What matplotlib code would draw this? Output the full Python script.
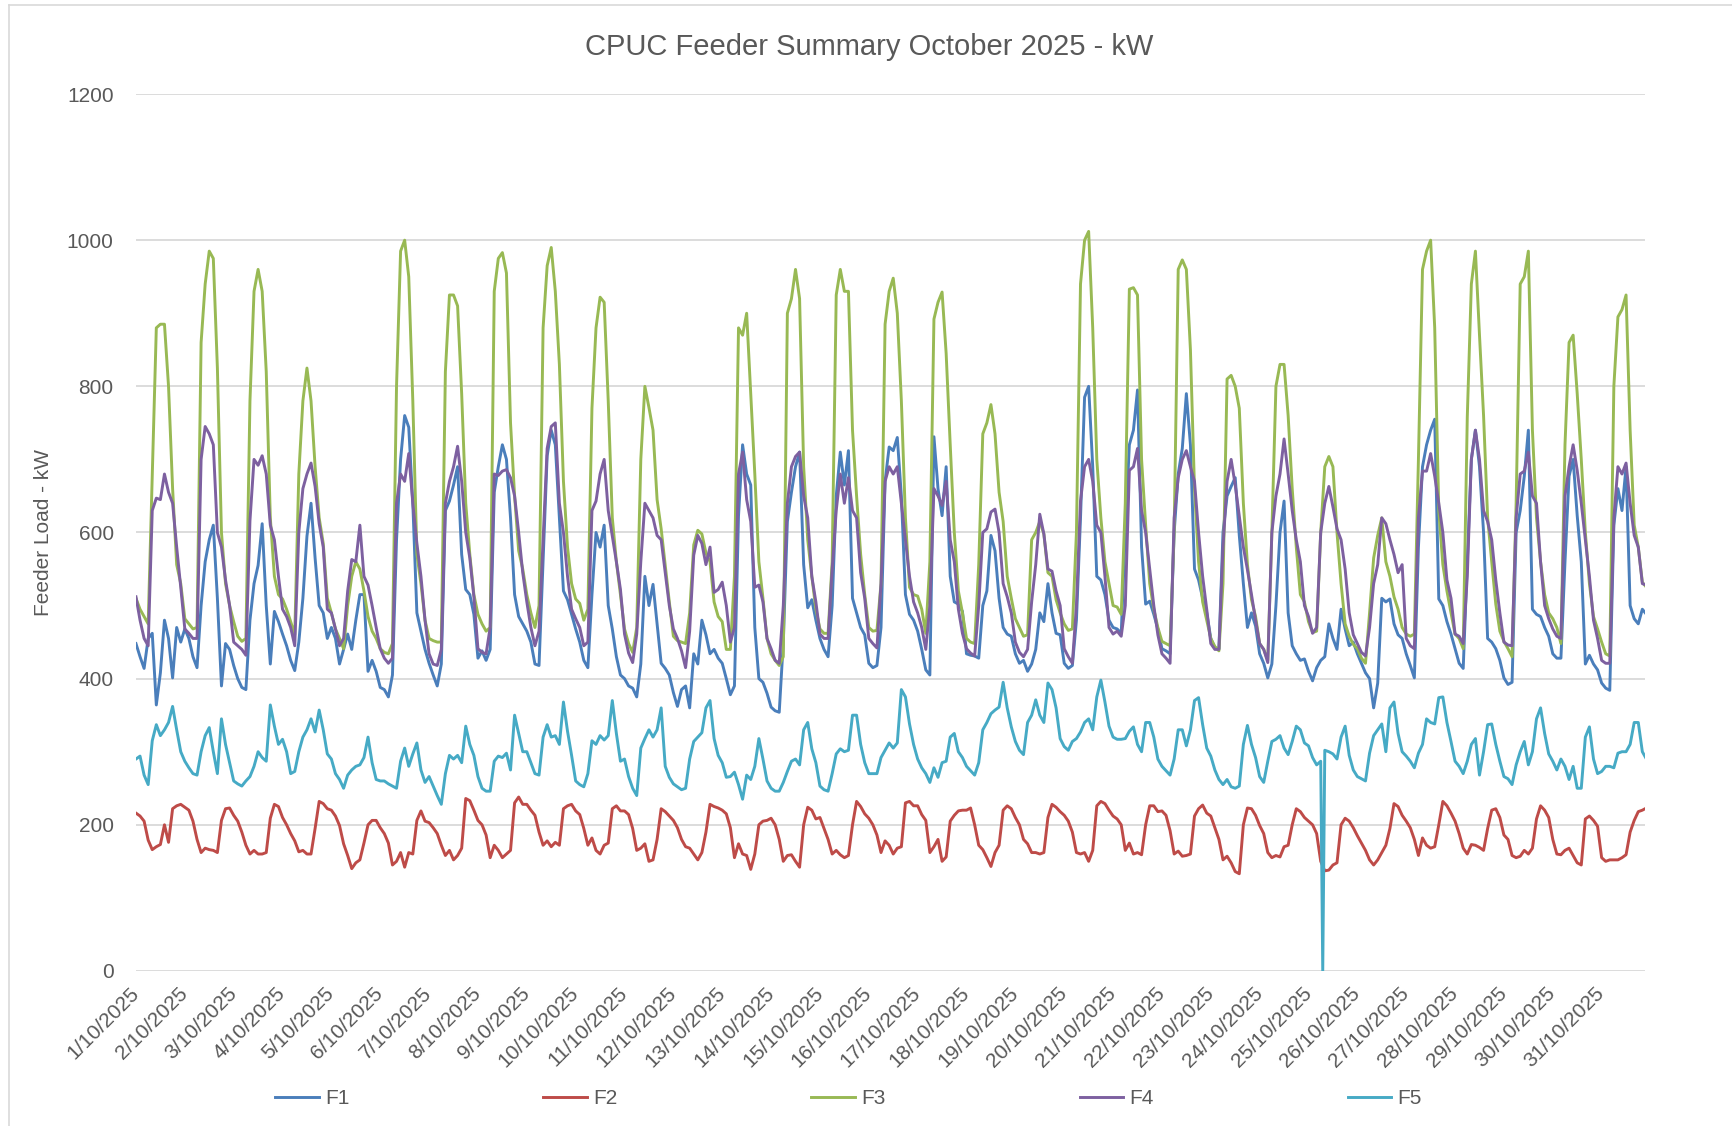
import matplotlib.pyplot as plt
from matplotlib.lines import Line2D
import pandas as pd

# 2-hourly readings, one row per day (00h 02h ... 22h), 1/10 .. 31/10
f1 = [
    448, 430, 414, 455, 462, 364, 408, 480, 455, 401, 470, 450,
    468, 455, 430, 415, 500, 560, 590, 610, 510, 390, 448, 440,
    418, 400, 388, 385, 480, 530, 555, 612, 500, 420, 492, 478,
    461, 445, 425, 411, 450, 510, 595, 640, 565, 500, 490, 455,
    470, 455, 420, 440, 461, 440, 480, 515, 515, 410, 425, 410,
    388, 385, 375, 405, 590, 700, 760, 744, 640, 490, 465, 440,
    421, 405, 390, 420, 630, 643, 665, 690, 570, 522, 515, 488,
    428, 438, 425, 440, 655, 690, 720, 700, 620, 515, 485, 475,
    465, 450, 420, 418, 560, 705, 740, 720, 620, 520, 508, 488,
    468, 450, 425, 415, 515, 600, 580, 610, 500, 468, 430, 405,
    400, 390, 387, 375, 420, 540, 500, 529, 475, 421, 414, 405,
    381, 362, 385, 390, 360, 434, 420, 480, 460, 434, 440, 428,
    421, 400, 378, 390, 623, 720, 680, 665, 470, 400, 395, 380,
    361, 356, 354, 450, 615, 655, 690, 710, 556, 497, 508, 480,
    455, 440, 430, 500, 650, 710, 665, 712, 510, 490, 470, 460,
    421, 415, 418, 470, 670, 717, 712, 730, 650, 515, 488, 480,
    465, 440, 412, 405, 731, 660, 623, 690, 540, 505, 502, 492,
    434, 432, 431, 428, 500, 520, 596, 575, 510, 470, 461, 458,
    434, 421, 425, 410, 420, 440, 490, 478, 530, 490, 462, 460,
    421, 414, 418, 480, 620, 785, 800, 690, 540, 535, 515, 480,
    470, 468, 462, 600, 720, 740, 795, 580, 502, 506, 488, 468,
    441, 438, 434, 600, 680, 715, 790, 720, 550, 535, 510, 490,
    455, 442, 441, 600, 650, 663, 675, 596, 530, 470, 490, 472,
    434, 421, 401, 420, 500, 600, 643, 490, 445, 434, 425, 427,
    410, 397, 415, 425, 430, 475, 455, 440, 495, 468, 445, 450,
    434, 421, 408, 400, 360, 394, 510, 505, 509, 475, 460, 455,
    434, 418, 401, 580, 690, 720, 740, 755, 509, 500, 478, 461,
    441, 421, 414, 560, 700, 740, 690, 600, 455, 450, 441, 425,
    401, 392, 395, 600, 630, 677, 740, 495, 488, 485, 470, 458,
    434, 428, 428, 560, 677, 700, 623, 560, 420, 432, 420, 412,
    394, 387, 384, 610, 660, 630, 690, 500, 482, 475, 495, 488,
]

f2 = [
    216, 212, 205, 179, 166, 170, 173, 200, 176, 222, 226, 228,
    224, 220, 205, 180, 162, 168, 166, 165, 162, 206, 222, 223,
    213, 205, 190, 172, 160, 165, 160, 160, 162, 209, 228, 225,
    210, 200, 188, 178, 163, 165, 160, 160, 195, 232, 229, 222,
    220, 212, 199, 174, 158, 140, 148, 152, 175, 200, 206, 206,
    196, 188, 175, 145, 150, 162, 142, 162, 160, 206, 219, 205,
    203, 196, 188, 172, 158, 165, 152, 158, 168, 236, 233, 220,
    206, 200, 186, 155, 172, 165, 155, 160, 165, 230, 238, 228,
    228, 220, 213, 190, 172, 178, 170, 176, 172, 222, 226, 228,
    219, 214, 195, 172, 182, 165, 160, 172, 175, 222, 226, 219,
    219, 214, 195, 165, 168, 174, 150, 152, 180, 222, 218, 212,
    206, 196, 180, 170, 168, 160, 152, 162, 190, 228, 225, 223,
    220, 215, 196, 155, 174, 160, 158, 139, 160, 200, 205, 206,
    209, 200, 180, 150, 158, 159, 150, 142, 200, 224, 220, 208,
    210, 195, 180, 160, 165, 159, 155, 158, 200, 232, 225, 215,
    209, 200, 186, 162, 178, 172, 160, 168, 170, 230, 232, 226,
    226, 214, 206, 162, 170, 180, 150, 156, 205, 213, 219, 220,
    220, 223, 200, 172, 166, 155, 143, 162, 172, 220, 226, 222,
    210, 200, 180, 174, 162, 162, 160, 162, 210, 228, 224, 218,
    213, 205, 190, 162, 160, 162, 150, 165, 226, 232, 229, 220,
    212, 208, 200, 165, 175, 160, 162, 159, 200, 226, 226, 218,
    219, 213, 192, 160, 164, 157, 158, 160, 212, 222, 227, 216,
    212, 196, 180, 152, 157, 148, 136, 133, 200, 223, 222, 213,
    199, 188, 162, 155, 158, 156, 170, 172, 200, 222, 218, 210,
    205, 200, 188, 150, 137, 138, 145, 148, 200, 209, 205, 196,
    185, 175, 165, 152, 145, 152, 162, 172, 195, 229, 225, 213,
    205, 196, 180, 158, 182, 172, 168, 170, 200, 232, 226, 216,
    205, 188, 168, 160, 173, 172, 169, 165, 195, 220, 222, 210,
    186, 180, 158, 155, 157, 165, 160, 168, 208, 226, 220, 210,
    180, 160, 159, 165, 168, 158, 148, 145, 208, 212, 206, 198,
    155, 150, 152, 152, 152, 155, 159, 190, 206, 218, 220, 223,
]

f3 = [
    510, 495, 485, 475, 680, 880, 885, 885, 800, 660, 556, 530,
    482, 475, 468, 470, 860, 940, 985, 975, 825, 600, 530, 500,
    478, 458, 451, 455, 780, 930, 960, 930, 820, 620, 540, 515,
    509, 495, 478, 460, 680, 780, 825, 780, 690, 620, 585, 510,
    490, 468, 455, 441, 500, 540, 560, 550, 520, 485, 465, 455,
    441, 436, 434, 448, 800, 985, 1000, 950, 780, 570, 530, 480,
    455, 452, 450, 450, 820, 925, 925, 910, 790, 640, 570, 515,
    488, 475, 465, 470, 930, 975, 983, 955, 750, 650, 575, 550,
    515, 490, 470, 500, 880, 965, 990, 930, 830, 670, 580, 530,
    509, 503, 480, 495, 770, 880, 922, 915, 780, 620, 560, 515,
    468, 448, 436, 470, 700, 800, 771, 740, 645, 605, 555, 505,
    458, 452, 450, 448, 490, 583, 603, 598, 572, 560, 505, 485,
    478, 440, 440, 540, 880, 870, 900, 790, 680, 560, 510, 455,
    434, 425, 418, 430, 900, 920, 960, 920, 690, 590, 540, 495,
    468, 462, 462, 560, 925, 960, 930, 930, 740, 650, 570, 515,
    470, 465, 466, 530, 885, 930, 948, 900, 780, 620, 525, 515,
    513, 495, 462, 560, 892, 915, 929, 845, 720, 600, 520, 490,
    455, 450, 448, 556, 735, 750, 775, 735, 655, 615, 540, 510,
    482, 470, 458, 460, 590, 600, 615, 598, 545, 540, 508, 490,
    475, 466, 468, 600, 940, 1000, 1012, 880, 700, 620, 560, 530,
    500, 498, 488, 640, 933, 935, 925, 700, 610, 530, 495, 470,
    451, 448, 445, 600, 960, 973, 960, 850, 660, 560, 505, 480,
    455, 444, 438, 530, 810, 815, 800, 770, 640, 556, 508, 485,
    448, 440, 425, 600, 800, 830, 830, 760, 660, 580, 515, 505,
    478, 463, 465, 600, 690, 704, 690, 600, 530, 475, 458, 447,
    441, 428, 421, 490, 565, 596, 620, 560, 540, 512, 495, 470,
    461, 458, 461, 700, 960, 985, 1000, 880, 630, 556, 520, 490,
    461, 455, 441, 758, 940, 985, 870, 760, 620, 560, 502, 465,
    451, 441, 430, 640, 940, 950, 985, 740, 620, 560, 515, 490,
    482, 470, 448, 720, 860, 870, 790, 700, 600, 530, 485, 468,
    450, 434, 431, 800, 895, 905, 925, 740, 610, 580, 532, 525,
]

f4 = [
    512, 480, 455, 445, 630, 647, 645, 680, 655, 640, 580, 525,
    468, 462, 455, 455, 700, 745, 735, 720, 600, 580, 535, 500,
    450, 445, 440, 432, 616, 700, 692, 705, 680, 610, 590, 540,
    495, 485, 470, 445, 600, 660, 680, 695, 663, 612, 580, 495,
    490, 468, 445, 455, 520, 563, 560, 610, 540, 528, 500, 470,
    441, 428, 421, 428, 640, 680, 670, 708, 640, 585, 540, 480,
    434, 420, 418, 440, 640, 670, 690, 718, 670, 600, 565, 512,
    441, 436, 434, 470, 680, 678, 684, 686, 675, 650, 600, 545,
    505, 470, 445, 465, 590, 715, 745, 750, 640, 600, 540, 495,
    482, 470, 445, 450, 630, 643, 680, 700, 630, 595, 560, 522,
    461, 435, 422, 461, 560, 640, 630, 620, 596, 590, 545, 500,
    468, 455, 438, 415, 465, 569, 596, 585, 556, 580, 518, 522,
    532, 500, 450, 470, 680, 710, 645, 615, 525, 528, 505, 455,
    441, 425, 421, 500, 640, 690, 704, 710, 650, 620, 540, 505,
    461, 455, 455, 550, 630, 680, 640, 675, 630, 620, 545, 510,
    455, 448, 442, 530, 670, 690, 680, 690, 640, 590, 540, 505,
    490, 470, 440, 500, 660, 650, 637, 670, 590, 560, 495, 462,
    441, 435, 431, 500, 600, 605, 628, 632, 600, 530, 512, 490,
    450, 436, 430, 440, 505, 556, 625, 598, 550, 547, 520, 500,
    441, 430, 421, 500, 643, 690, 700, 670, 610, 600, 540, 470,
    461, 465, 458, 500, 685, 690, 715, 630, 600, 550, 500, 460,
    434, 428, 421, 620, 675, 700, 712, 690, 670, 600, 540, 495,
    448, 440, 440, 580, 670, 700, 665, 623, 580, 549, 515, 480,
    448, 440, 422, 600, 650, 680, 728, 680, 630, 590, 560, 500,
    485, 462, 470, 600, 640, 663, 635, 605, 590, 550, 490, 460,
    448, 436, 431, 470, 530, 556, 620, 612, 590, 570, 545, 556,
    455, 445, 441, 620, 684, 684, 708, 677, 640, 600, 535, 510,
    461, 458, 448, 540, 700, 740, 700, 630, 615, 590, 535, 490,
    450, 446, 445, 620, 680, 684, 710, 650, 640, 560, 500, 482,
    468, 458, 455, 650, 690, 720, 685, 640, 590, 540, 480, 455,
    425, 421, 421, 620, 690, 680, 695, 640, 596, 580, 530, 528,
]

f5 = [
    290, 294, 268, 255, 315, 337, 322, 330, 340, 362, 330, 300,
    287, 278, 270, 268, 300, 322, 333, 300, 270, 345, 310, 285,
    260, 256, 253, 260, 266, 280, 300, 292, 287, 364, 335, 310,
    317, 300, 270, 273, 300, 320, 330, 345, 327, 357, 330, 297,
    290, 270, 262, 250, 268, 275, 280, 282, 292, 320, 285, 262,
    260, 260, 256, 253, 250, 287, 305, 280, 297, 312, 275, 258,
    266, 253, 240, 228, 270, 295, 290, 295, 285, 335, 310, 295,
    266, 250, 246, 246, 287, 294, 292, 298, 275, 350, 325, 300,
    300, 285, 270, 268, 320, 337, 320, 322, 310, 368, 328, 295,
    260, 255, 252, 270, 315, 310, 322, 316, 322, 370, 325, 287,
    290, 266, 250, 240, 305, 318, 330, 320, 330, 360, 280, 265,
    256, 252, 248, 250, 290, 314, 320, 326, 360, 370, 318, 295,
    285, 265, 266, 272, 255, 235, 268, 262, 280, 318, 290, 260,
    250, 246, 246, 258, 273, 287, 290, 282, 330, 340, 304, 285,
    253, 248, 246, 270, 297, 304, 300, 302, 350, 350, 310, 285,
    270, 270, 270, 292, 302, 312, 305, 312, 385, 375, 338, 310,
    290, 278, 270, 258, 278, 265, 285, 287, 320, 325, 300, 292,
    280, 274, 268, 285, 330, 340, 352, 357, 361, 395, 360, 334,
    314, 302, 296, 340, 350, 371, 350, 340, 394, 385, 360, 318,
    307, 302, 314, 318, 327, 340, 345, 330, 375, 398, 368, 335,
    320, 317, 317, 318, 328, 334, 310, 300, 340, 340, 320, 290,
    280, 274, 268, 290, 330, 330, 308, 330, 370, 374, 337, 305,
    294, 275, 262, 255, 262, 252, 250, 253, 310, 336, 310, 292,
    266, 258, 287, 314, 317, 322, 305, 296, 314, 335, 330, 312,
    308, 292, 282, 287, 302, 300, 297, 290, 320, 335, 295, 275,
    266, 263, 260, 298, 322, 330, 338, 300, 360, 368, 325, 300,
    294, 287, 278, 298, 310, 345, 340, 338, 374, 375, 340, 314,
    287, 280, 270, 287, 310, 318, 268, 300, 337, 338, 310, 287,
    266, 263, 255, 282, 300, 314, 282, 300, 345, 360, 325, 297,
    287, 275, 290, 280, 262, 280, 250, 250, 320, 334, 290, 270,
    273, 280, 280, 278, 298, 300, 300, 310, 340, 340, 300, 290,
]
# F5 meter dropout on the morning of 25/10
f5_dropout_time = "2025-10-25 07:00"
f5_dropout_value = 0

series_names = ["F1", "F2", "F3", "F4", "F5"]
colors = ["#4A7EBB", "#BE4B48", "#98B954", "#7D60A0", "#46AAC5"]

times = pd.date_range("2025-10-01", periods=len(f1), freq="2h")
s5 = pd.concat([pd.Series(f5, index=times),
                pd.Series([f5_dropout_value], index=pd.to_datetime([f5_dropout_time]))]).sort_index()

plt.rcParams["font.family"] = ["Liberation Sans", "DejaVu Sans"]
txt = "#595959"

fig = plt.figure(figsize=(17.32, 11.26), dpi=100)
ax = fig.add_axes([0.0785, 0.1377, 0.8715, 0.7788])

data = [pd.Series(f1, index=times), pd.Series(f2, index=times),
        pd.Series(f3, index=times), pd.Series(f4, index=times), s5]
for s, name, c in zip(data, series_names, colors):
    ax.plot(s.index, s.values, color=c, lw=2.1, label=name)

ax.set_ylim(0, 1200)
ax.set_yticks(range(0, 1201, 200))
ax.set_xlim(times[0], pd.Timestamp("2025-10-31 21:30"))
days = pd.date_range("2025-10-01", "2025-10-31", freq="D")
ax.set_xticks(days)
ax.set_xticklabels([f"{d.day}/{d.month}/{d.year}" for d in days],
                   rotation=45, ha="right", va="center", rotation_mode="anchor")
ax.tick_params(axis="x", length=0, pad=14, labelsize=15, labelcolor=txt)
ax.tick_params(axis="y", length=0, pad=16, labelsize=15, labelcolor=txt)
ax.grid(axis="y", color="#d9d9d9", lw=1.3)
ax.set_axisbelow(True)
for sp in ax.spines.values():
    sp.set_visible(False)

ax.set_ylabel("Feeder Load - kW", fontsize=15, color=txt)
ax.yaxis.set_label_coords(-0.055, 0.5)
fig.text(0.502, 0.958, "CPUC Feeder Summary October 2025 - kW",
         ha="center", va="center", fontsize=21, color=txt)

fig.legend(loc="center", bbox_to_anchor=(0.49, 0.024), ncol=5, frameon=False,
           fontsize=15, labelcolor=txt, handlelength=2.1, handletextpad=0.3,
           columnspacing=9.3)

# chart-area border (only left and top edges are inside the screenshot)
fig.add_artist(Line2D([0.0052, 0.0052], [0.0, 0.9956], color="#d9d9d9", lw=1.2))
fig.add_artist(Line2D([0.0052, 1.0], [0.9956, 0.9956], color="#d9d9d9", lw=1.2))

fig.savefig("out.png", dpi=100)
